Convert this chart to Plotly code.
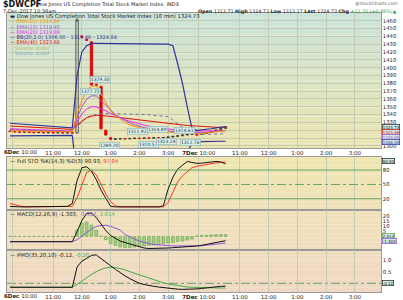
import plotly.graph_objects as go

W, H = 403, 300

# ---------------- data ----------------
bar_index = list(range(46))
tick_pos = [0.6, 9, 15, 21, 27, 33, 39.4, 48, 54, 60, 66, 72]
tick_text = ["", "11:00", "12:00", "1:00", "2:00", "3:00",
             "<b>7Dec</b> 10:00", "11:00", "12:00", "1:00", "2:00", "3:00"]
first_day_label = "<b>6Dec</b> 10:00"

open_ = [1318.9, 1318.5, 1318.0, 1317.6, 1317.9, 1317.4, 1317.0, 1317.3, 1316.8, 1317.1, 1316.7, 1317.0, 1316.6, 1316.9,
         1316.5, 1440.0, 1436.0, 1433.0, 1378.5, 1376.0, 1320.0, 1310.5, 1308.5, 1309.0, 1309.3, 1309.1, 1309.6, 1309.9,
         1309.7, 1310.2, 1310.0, 1310.5, 1310.3, 1310.8, 1311.5, 1312.3, 1313.0, 1314.0, 1314.8,
         1313.71, 1314.8, 1316.0, 1317.2, 1318.6, 1320.5, 1322.4]
close = [1318.5, 1318.0, 1317.6, 1317.9, 1317.4, 1317.0, 1317.3, 1316.8, 1317.1, 1316.7, 1317.0, 1316.6, 1316.9, 1316.5,
         1461.0, 1439.0, 1435.0, 1378.0, 1377.5, 1322.0, 1314.0, 1308.5, 1309.0, 1309.3, 1309.1, 1309.6, 1309.9, 1309.7,
         1310.2, 1310.0, 1310.5, 1310.3, 1310.8, 1311.5, 1312.3, 1313.0, 1314.0, 1314.8, 1315.6,
         1314.8, 1316.0, 1317.2, 1318.6, 1320.5, 1322.4, 1324.73]
high = [1319.3, 1318.9, 1318.4, 1318.3, 1318.2, 1317.8, 1317.7, 1317.6, 1317.5, 1317.4, 1317.4, 1317.3, 1317.2, 1317.2,
        1463.0, 1441.0, 1437.0, 1434.0, 1380.0, 1377.0, 1321.0, 1311.0, 1309.6, 1309.8, 1309.7, 1310.0, 1310.3, 1310.2,
        1310.6, 1310.5, 1310.9, 1310.8, 1311.2, 1311.9, 1312.7, 1313.4, 1314.4, 1315.2, 1316.0,
        1315.2, 1316.4, 1317.6, 1319.0, 1320.9, 1322.8, 1324.9]
low = [1318.1, 1317.7, 1317.3, 1317.3, 1317.0, 1316.7, 1316.7, 1316.5, 1316.5, 1316.4, 1316.4, 1316.3, 1316.3, 1316.2,
       1316.0, 1438.0, 1434.0, 1377.0, 1377.0, 1321.0, 1313.0, 1307.5, 1308.1, 1308.6, 1308.7, 1308.8, 1309.2, 1309.3,
       1309.4, 1309.7, 1309.7, 1309.9, 1310.0, 1310.4, 1311.1, 1311.9, 1312.6, 1313.6, 1314.4,
       1313.17, 1314.5, 1315.6, 1316.8, 1318.2, 1320.1, 1322.0]

ema10 = [1319.5, 1319.4, 1319.3, 1319.2, 1319.1, 1319.0, 1318.9, 1318.7, 1318.6, 1318.4, 1318.3, 1318.2, 1318.1, 1318.0,
         1341, 1358, 1372, 1376, 1377, 1366, 1355, 1345, 1339, 1334, 1330, 1327, 1325, 1323, 1321.7, 1320.7, 1319.8,
         1319, 1318.3, 1317.8, 1317.3, 1316.9, 1316.5, 1316.2, 1316.0,
         1315.8, 1316.0, 1316.5, 1317.2, 1318.0, 1318.9, 1319.86]
ema13 = [1320.5, 1320.3, 1320.2, 1320.0, 1319.9, 1319.7, 1319.6, 1319.4, 1319.3, 1319.1, 1319.0, 1318.8, 1318.7, 1318.5,
         1336, 1350, 1360, 1364, 1364, 1358, 1351, 1345, 1340, 1336, 1332.5, 1329.5, 1327, 1325, 1323.5, 1322.2, 1321.2,
         1320.3, 1319.6, 1319, 1318.5, 1318, 1317.6, 1317.3, 1317.0,
         1316.8, 1316.9, 1317.2, 1317.6, 1318.2, 1318.8, 1319.45]
ema20 = [1322.0, 1321.8, 1321.5, 1321.3, 1321.1, 1320.8, 1320.6, 1320.4, 1320.2, 1319.9, 1319.7, 1319.5, 1319.2, 1319.0,
         1331, 1341, 1347, 1350, 1350, 1348, 1345, 1341.5, 1338.5, 1336, 1333.5, 1331.5, 1329.7, 1328, 1326.6, 1325.3,
         1324.2, 1323.2, 1322.4, 1321.7, 1321, 1320.4, 1320, 1319.6, 1319.3,
         1319.0, 1318.9, 1319.0, 1319.1, 1319.3, 1319.6, 1319.89]
ema40 = [1325.5, 1325.2, 1324.8, 1324.5, 1324.2, 1323.8, 1323.5, 1323.2, 1322.9, 1322.5, 1322.2, 1321.9, 1321.5, 1321.2,
         1327, 1332, 1336, 1338, 1339, 1339, 1338.6, 1338, 1337, 1336.2, 1335.4, 1334.6, 1333.8, 1333, 1332.2, 1331.5,
         1330.8, 1330.1, 1329.4, 1328.7, 1328, 1327.4, 1326.8, 1326.2, 1325.7,
         1325.2, 1324.8, 1324.4, 1324.1, 1323.9, 1323.7, 1323.66]
bb_upper = [1329, 1328.5, 1328, 1327.6, 1327.2, 1326.8, 1326.3, 1325.9, 1325.4, 1325, 1324.6, 1324.1, 1323.6, 1323.2,
            1390, 1420, 1428, 1431, 1431, 1431, 1431, 1431, 1431, 1430.8, 1430.8, 1430.7, 1430.6, 1430.5, 1430.5,
            1430.4, 1430.3, 1430.2, 1430.1, 1430, 1428, 1405, 1380, 1350, 1322,
            1320, 1320.5, 1321, 1322, 1323, 1324, 1324.84]
bb_mid = [1321, 1320.8, 1320.6, 1320.4, 1320.2, 1320, 1319.8, 1319.6, 1319.4, 1319.2, 1319, 1318.7, 1318.4, 1318.2,
          1325, 1331, 1336, 1339, 1340.5, 1341.5, 1341.5, 1341.4, 1341.3, 1341.2, 1341, 1340.9, 1340.7, 1340.5, 1340.3,
          1340, 1339, 1338.5, 1338, 1337.5, 1333, 1328, 1323, 1319, 1316.5,
          1315.5, 1315.2, 1315.0, 1315.0, 1315.1, 1315.3, 1315.46]
bb_lower = [1313, 1313.1, 1313.1, 1313.2, 1313.2, 1313.3, 1313.3, 1313.3, 1313.4, 1313.4, 1313.4, 1313.5, 1313.5, 1313.5,
            1260, 1242, 1244, 1247, 1250, 1250, 1250, 1250, 1250, 1250, 1250, 1250, 1250, 1250, 1250, 1250, 1250,
            1250, 1250, 1250, 1252, 1265, 1280, 1293, 1303,
            1305, 1305.5, 1305.8, 1306, 1306, 1306, 1306.0]

sto_k = [4, 3, 3, 3, 3, 3, 3, 3, 3, 3, 3, 3, 4, 10,
         58, 85, 87, 78, 60, 38, 20, 4, 3, 3, 3, 3, 3, 3, 3, 3, 3, 3, 5, 40, 65, 82, 90, 98, 96,
         94, 94.5, 96, 98, 98, 97, 93]
sto_d = [10, 7, 5, 3, 3, 3, 3, 3, 3, 3, 3, 3, 3, 4,
         22, 50, 75, 80, 70, 50, 30, 14, 5, 3, 3, 3, 3, 3, 3, 3, 3, 3, 3, 12, 33, 55, 68, 76, 85,
         88, 90, 91, 93, 95, 96, 97.04]

macd = [-5.2] * 14 + [4.8, 16, 23, 23.5, 19, 12, 6, 1, -2, -4.5, -6, -7.5, -9, -10.5, -11.5, -12, -12, -12, -11.8,
                      -11.5, -11.2, -11, -10.7, -10.5, -10.2, -9.5, -8.8, -8, -7, -6, -5, -4.2]
macd_signal = [-5.2] * 14 + [-3.2, 0, 4, 7.5, 10, 11, 11.3, 10.2, 8.5, 6.5, 2, -0.5, -2.5, -4.5, -6, -7, -8, -8.5,
                             -9, -9.2, -9.4, -9.5, -9.6, -9.7, -9.7, -9.6, -9.3, -8.7, -8.2, -7.6, -7, -6.5]
macd_hist = [0] * 14 + [6.5, 13.5, 14.5, 11.5, 6.5, 0.5, -3, -7, -9, -10.5, -11, -11, -10.5, -10, -9.5, -9, -8.5,
                        -8, -7, -6.5, -6, -5, -4.5, -3.5, -2.5, 0.6, 1.0, 1.3, 1.6, 1.8, 2.0, 2.0]

pmo = [-0.17] * 14 + [0.7, 0.95, 1.07, 1.2, 1.22, 1.05, 0.88, 0.75, 0.6, 0.45, 0.32, 0.2, 0.1, 0.0, -0.05, -0.1,
                      -0.13, -0.16, -0.19, -0.21, -0.23, -0.25, -0.26, -0.26, -0.25, -0.24, -0.22, -0.19, -0.17,
                      -0.15, -0.13, -0.12]
pmo_signal = [-0.17] * 14 + [-0.05, 0.1, 0.25, 0.38, 0.5, 0.6, 0.66, 0.69, 0.68, 0.64, 0.58, 0.5, 0.43, 0.36, 0.28,
                             0.21, 0.14, 0.08, 0.02, -0.03, -0.07, -0.11, -0.14, -0.16, -0.17, -0.18, -0.19, -0.2,
                             -0.2, -0.2, -0.2, -0.20]

pivot_labels = [("1377.75", 16.7, 1369.3), ("1379.30", 18.8, 1385.5), ("1289.20", 20.7, 1300.5),
                ("1311.92", 26.6, 1317.9), ("1314.89", 30.8, 1320.4), ("1310.57", 28.9, 1302.3),
                ("1313.24", 32.7, 1305.3), ("1314.61", 36.5, 1319.5), ("1312.76", 37.7, 1304.2)]

price_ticks = list(range(1300, 1470, 10))
price_tick_text = ["" if v in (1310, 1320) else str(v) for v in price_ticks]

# ---------------- layout helpers ----------------
def py(p):
    return 1 - p / H

X0, X1 = 7, 381
xdom = [X0 / W, X1 / W]
panels = {
    "price": (13, 148),
    "sto": (156.5, 209.5),
    "macd": (209.5, 250),
    "pmo": (250, 292),
}

FONT = "DejaVu Sans"
C_EMA10 = "#ff8c00"
C_EMA13 = "#9a55d0"
C_EMA20 = "#ee22ee"
C_BB = "#333399"
C_EMA40 = "#dd1111"
GRID = "#c6ccb4"

fig = go.Figure()

# candles, coloured by change versus previous close
blk = {"x": [], "o": [], "h": [], "l": [], "c": []}
red = {"x": [], "o": [], "h": [], "l": [], "c": []}
for i in bar_index:
    prev = close[i - 1] if i > 0 else open_[i]
    g = red if close[i] < prev else blk
    g["x"].append(i); g["o"].append(open_[i]); g["h"].append(high[i]); g["l"].append(low[i]); g["c"].append(close[i])

for g, col in ((blk, "#333333"), (red, "#e00000")):
    fig.add_trace(go.Candlestick(
        x=g["x"], open=g["o"], high=g["h"], low=g["l"], close=g["c"],
        increasing=dict(line=dict(color=col, width=0.8), fillcolor="rgba(0,0,0,0)"),
        decreasing=dict(line=dict(color=col, width=0.8), fillcolor=col),
        whiskerwidth=0, xaxis="x", yaxis="y", showlegend=False, hoverinfo="skip"))

def line(y, color, xa, ya, width=1.0, dash=None):
    fig.add_trace(go.Scatter(x=bar_index, y=y, mode="lines", xaxis=xa, yaxis=ya,
                             line=dict(color=color, width=width, dash=dash),
                             showlegend=False, hoverinfo="skip"))

line(bb_mid, "#7070a0", "x", "y", 1.0, "dot")
line(ema40, C_EMA40, "x", "y", 1.0)
line(ema20, C_EMA20, "x", "y", 1.0)
line(ema13, C_EMA13, "x", "y", 1.0)
line(ema10, C_EMA10, "x", "y", 1.0)
line(bb_upper, C_BB, "x", "y", 1.2)
line(bb_lower, C_BB, "x", "y", 1.2)

# STO
line(sto_d, "#ff3322", "x2", "y2", 1.0)
line(sto_k, "#111111", "x2", "y2", 1.0)

# MACD
fig.add_trace(go.Bar(x=bar_index, y=macd_hist, xaxis="x3", yaxis="y3", marker=dict(color="#9fcf7f",
              line=dict(color="#5a9a48", width=0.5)), width=0.6, showlegend=False, hoverinfo="skip"))
line(macd_signal, "#8855dd", "x3", "y3", 1.0)
line(macd, "#111111", "x3", "y3", 1.0)

# PMO
line(pmo_signal, "#44aa44", "x4", "y4", 1.0)
line(pmo, "#111111", "x4", "y4", 1.0)

# ---------------- axes ----------------
xr = [-0.63, 77.45]
common_x = dict(range=xr, showgrid=True, gridcolor=GRID, gridwidth=0.6, tickvals=tick_pos,
                ticktext=tick_text, ticks="", zeroline=False, showline=True, linecolor="#9a9a9a",
                linewidth=0.6, mirror=True, tickfont=dict(family=FONT, size=5.5, color="#222"),
                rangeslider=dict(visible=False), fixedrange=True)
yfont = dict(family=FONT, size=5.3, color="#222")
common_y = dict(side="right", showgrid=True, gridcolor=GRID, gridwidth=0.6, zeroline=False, ticks="",
                showline=True, linecolor="#9a9a9a", linewidth=0.6, mirror=True, tickfont=yfont)

def dom(name):
    a, b = panels[name]
    return [py(b), py(a)]

fig.update_layout(
    width=W, height=H, margin=dict(l=0, r=0, t=0, b=0), paper_bgcolor="white",
    plot_bgcolor="rgba(0,0,0,0)", showlegend=False, bargap=0.3,
    xaxis=dict(common_x, domain=xdom, anchor="y", showticklabels=True),
    xaxis2=dict(common_x, domain=xdom, anchor="y2", showticklabels=False),
    xaxis3=dict(common_x, domain=xdom, anchor="y3", showticklabels=False),
    xaxis4=dict(common_x, domain=xdom, anchor="y4", showticklabels=True),
    yaxis=dict(common_y, domain=dom("price"), anchor="x", range=[1297.4, 1469.8], tickvals=price_ticks,
               ticktext=price_tick_text),
    yaxis2=dict(common_y, domain=dom("sto"), anchor="x2", range=[-2.5, 108.4], tickvals=[20, 50, 80],
                showgrid=False),
    yaxis3=dict(common_y, domain=dom("macd"), anchor="x3", range=[-13.5, 27], tickvals=[5, 10, 15, 20],
                showgrid=False),
    yaxis4=dict(common_y, domain=dom("pmo"), anchor="x4", range=[-0.373, 1.43], tickvals=[0.5, 1.0],
                ticktext=["0.5", "1.0"], showgrid=False),
)

# ---------------- background gradients ----------------
def lerp(c1, c2, t):
    return "rgb(%d,%d,%d)" % tuple(round(c1[k] + (c2[k] - c1[k]) * t) for k in range(3))

shapes = []
def gradient(top, bot, ctop, cbot, n=30):
    h = (bot - top) / n
    for k in range(n):
        shapes.append(dict(type="rect", xref="paper", yref="paper", x0=xdom[0], x1=xdom[1],
                           y0=py(top + (k + 1) * h), y1=py(top + k * h), layer="below",
                           line=dict(width=0), fillcolor=lerp(ctop, cbot, (k + 0.5) / n)))

gradient(13, 148, (203, 228, 218), (236, 229, 176))
gradient(156.5, 292, (240, 231, 178), (240, 216, 196))

# STO reference lines
for v, d in ((80, "solid"), (50, "dashdot"), (20, "solid")):
    shapes.append(dict(type="line", xref="x2", yref="y2", x0=xr[0], x1=xr[1], y0=v, y1=v,
                       line=dict(color="#5fa35f", width=1, dash=d), layer="above"))
shapes.append(dict(type="line", xref="x4", yref="y4", x0=xr[0], x1=xr[1], y0=0, y1=0,
                   line=dict(color="#5fa35f", width=1, dash="dashdot"), layer="below"))
fig.update_layout(shapes=shapes)

# ---------------- texts ----------------
ann = []
def txt(x, y, s, size=5.5, color="#222", anchor="left", yanchor="middle", **kw):
    ann.append(dict(x=x / W, y=py(y), xref="paper", yref="paper", text=s, showarrow=False,
                    xanchor=anchor, yanchor=yanchor, font=dict(family=FONT, size=size, color=color), **kw))

txt(1, 4.5, "<b>$DWCPF</b>", size=8, color="#111")
txt(34, 4.5, "Dow Jones US Completion Total Stock Market Index  INDX", size=5, color="#222")
txt(400, 3, "@StockCharts.com", size=4.5, color="#666", anchor="right")
txt(1, 11, "7-Dec-2017 10:38am", size=5, color="#222")
txt(399, 11.5, "<b>Open</b> 1313.71 <b>High</b> 1324.73 <b>Low</b> 1313.17 <b>Last</b> 1324.73 "
    "<b>Chg</b> <span style='color:#339933'>+11.32 (+0.86%)▲</span>", size=4.8, color="#222", anchor="right")

# x labels for the first day start (placed by hand so they are not clipped at the left edge)
txt(2, 152.3, first_day_label, size=5.5)
txt(2, 296.3, first_day_label, size=5.5)

txt(8, 16.3, "▬ Dow Jones US Completion Total Stock Market Index (10 min) 1324.73", size=5.3, color="#222")
legend_items = [("— EMA(10) 1319.86", C_EMA10), ("— EMA(13) 1319.45", C_EMA13), ("— EMA(20) 1319.89", C_EMA20),
                ("— BB(20,2.0) 1306.00 - 1315.46 - 1324.84", C_BB), ("— EMA(40) 1323.66", C_EMA40),
                ("·· Volume undef", "#b8b860"), ("·· Volume undef", "#70a8b8")]
for k, (s, c) in enumerate(legend_items):
    txt(8, 21.3 + 5.3 * k, s, size=5, color=c)

txt(8, 161, "— Full STO %K(14,3) %D(3) 90.93, <span style='color:#ff3322'>97.04</span>", size=5.3)
txt(8, 213.5, "— MACD(12,26,9) -1.303, <span style='color:#8855dd'>-3.317</span>, "
    "<span style='color:#66aa44'>2.014</span>", size=5.3)
txt(8, 255, "— PMO(35,20,10) -0.12, <span style='color:#44aa44'>-0.20</span>", size=5.3)

for s, xi, v in pivot_labels:
    ann.append(dict(x=xi, y=v, xref="x", yref="y", text=s, showarrow=False, bgcolor="#d7efec",
                    bordercolor="#8fb1b0", borderwidth=0.6, borderpad=0.3,
                    font=dict(family=FONT, size=4.5, color="#333")))

def vbox(yv, yref, s, border, color="#111", bg="#cfe9e6"):
    ann.append(dict(x=381.5 / W, y=yv, xref="paper", yref=yref, text=s, showarrow=False, xanchor="left",
                    bgcolor=bg, bordercolor=border, borderwidth=0.7, borderpad=0,
                    font=dict(family=FONT, size=4.0, color=color)))

vbox(1324.0, "y", "1324.73", "#222")
vbox(1317.5, "y", "1323.66", "#dd1111", "#dd1111")
vbox(1311.2, "y", "1319.89", "#9a55d0", "#9a55d0")
vbox(1304.8, "y", "1306.00", "#333399", "#333399")
vbox(98.5, "y2", "90.93", "#222")
vbox(0.8, "y3", "2.014", "#559944")
vbox(-4.2, "y3", "-1.303", "#8855dd")
vbox(0.0, "y4", "-0.12", "#222")

fig.update_layout(annotations=ann)
fig.write_html("out.html")
